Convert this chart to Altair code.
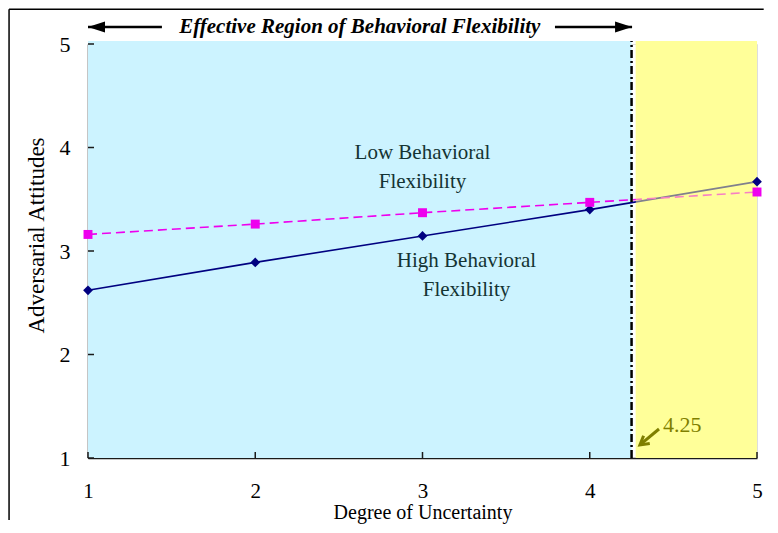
import altair as alt
import pandas as pd

# ---- data ----
x_vals = [1, 2, 3, 4, 5]
high_flex = [2.62, 2.89, 3.145, 3.40, 3.67]
low_flex = [3.16, 3.26, 3.37, 3.47, 3.57]
x_ticks = [1, 2, 3, 4, 5]
y_ticks = [1, 2, 3, 4, 5]
cutoff = 4.25

region_x = [1, 4.275]
region_x2 = [4.25, 5]
region_top = 5.03
region_colors = ["#ccf3ff", "#ffff99"]

ann_labels = ["Low Behavioral", "Flexibility", "High Behavioral", "Flexibility"]
ann_x = [3.0, 3.0, 3.263, 3.263]
ann_y = [3.947, 3.667, 2.903, 2.623]

header_text = ["Effective Region of Behavioral Flexibility"]
header_x = [2.625]
header_y = [5.165]
arrow_left = [1.0, 1.442]      # tip, tail
arrow_right = [3.792, 4.253]   # tail, tip

cut_label = ["4.25"]
cut_label_xy = [4.438, 1.319]
cut_arrow_from = [4.414, 1.280]
cut_arrow_to = [4.300, 1.126]

# outer frame (left edge x, top edge y, extents)
frame_left_x = [0.528]
frame_top_y = [5.335]
frame_x_end = [5.04]
frame_y_end = [0.40]

W, H = 669, 414
FONT = "Liberation Serif"

xscale = alt.Scale(domain=[1, 5], nice=False, zero=False)
yscale = alt.Scale(domain=[1, 5], nice=False, zero=False)

xaxis = alt.Axis(values=x_ticks, title="Degree of Uncertainty", ticks=False, tickSize=0,
                 labelPadding=22, labelFontSize=21, titleFontSize=20, titleFontWeight="normal",
                 domainColor="#1a1a1a", domainWidth=1.5, grid=False, labelColor="black",
                 titleColor="black", titleX=W / 2, titleY=60, titleBaseline="alphabetic",
                 titleAnchor="middle", labelFlush=False, format="d", labelFont=FONT, titleFont=FONT)
yaxis = alt.Axis(values=y_ticks, title="Adversarial Attitudes", ticks=False, tickSize=0,
                 labelPadding=18, labelFontSize=22, titleFontSize=23, titleFontWeight="normal",
                 domainColor="#1a1a1a", domainWidth=1.5, grid=False, labelColor="black",
                 titleColor="black", titleAngle=270, titleX=-45, titleY=191,
                 titleBaseline="alphabetic", titleAlign="center", labelFlush=False, format="d",
                 labelFont=FONT, titleFont=FONT, labelBaseline="middle")


def X(f="x"):
    return alt.X(f"{f}:Q", scale=xscale, axis=xaxis)


def Y(f="y"):
    return alt.Y(f"{f}:Q", scale=yscale, axis=yaxis)


series = pd.DataFrame({"x": x_vals, "high": high_flex, "low": low_flex})
high_df = series[["x", "high"]].rename(columns={"high": "y"})
low_df = series[["x", "low"]].rename(columns={"low": "y"})

regions = pd.DataFrame({"x": region_x, "x2": region_x2, "y": [1, 1],
                        "y2": [region_top, region_top], "c": region_colors})

frame_v = alt.Chart(pd.DataFrame({"x": frame_left_x, "y": frame_y_end, "y2": frame_top_y})).mark_rule(
    color="black", strokeWidth=1.5, clip=False
).encode(x=X(), y=Y(), y2="y2:Q")
frame_h = alt.Chart(pd.DataFrame({"x": frame_left_x, "x2": frame_x_end, "y": frame_top_y})).mark_rule(
    color="black", strokeWidth=1.5, clip=False
).encode(x=X(), x2="x2:Q", y=Y())

bg = alt.Chart(regions).mark_rect().encode(
    x=X(), x2="x2:Q", y=Y(), y2="y2:Q", color=alt.Color("c:N", scale=None)
)

line_high = alt.Chart(high_df).mark_line(color="#000080", strokeWidth=1.6).encode(x=X(), y=Y())
line_low = alt.Chart(low_df).mark_line(color="#ee00ee", strokeWidth=1.6, strokeDash=[9, 5]).encode(x=X(), y=Y())

overlay = alt.Chart(regions.iloc[[1]]).mark_rect(color="#ffff99", opacity=0.5).encode(
    x=X(), x2="x2:Q", y=Y(), y2="y2:Q"
)

cut_df = pd.DataFrame({"x": [cutoff], "y": [1], "y2": [region_top]})
cut_rule = alt.Chart(cut_df).mark_rule(color="black", strokeWidth=2.5, strokeDash=[8, 3, 2, 3]).encode(
    x=X(), y=Y(), y2="y2:Q"
)

pts_high = alt.Chart(high_df).mark_point(shape="diamond", filled=True, color="#000080", size=95, opacity=1).encode(x=X(), y=Y())
pts_low = alt.Chart(low_df).mark_point(shape="square", filled=True, color="#ee00ee", size=80, opacity=1).encode(x=X(), y=Y())

# inward ticks
xt = pd.DataFrame({"x": x_ticks})
xtick_marks = alt.Chart(xt).mark_rule(color="#1a1a1a", strokeWidth=1.5).encode(
    x=X(), y=alt.value(H), y2=alt.value(H - 6)
)
yt = pd.DataFrame({"y": y_ticks})
ytick_marks = alt.Chart(yt).mark_rule(color="#1a1a1a", strokeWidth=1.5).encode(
    y=Y(), x=alt.value(0), x2=alt.value(6)
)

ann_df = pd.DataFrame({"x": ann_x, "y": ann_y, "t": ann_labels})
ann = alt.Chart(ann_df).mark_text(font=FONT, fontSize=21, color="#143333", align="center", baseline="middle").encode(
    x=X(), y=Y(), text="t:N"
)

hdr_df = pd.DataFrame({"x": header_x, "y": header_y, "t": header_text})
hdr = alt.Chart(hdr_df).mark_text(font=FONT, fontSize=21, fontStyle="italic", fontWeight="bold",
                                  color="black", align="center", baseline="middle").encode(
    x=X(), y=Y(), text="t:N"
)

arr_df = pd.DataFrame({"x": [arrow_left[0], arrow_right[0]], "x2": [arrow_left[1], arrow_right[1]],
                       "y": [header_y[0], header_y[0]]})
arr_lines = alt.Chart(arr_df).mark_rule(color="black", strokeWidth=2.5).encode(x=X(), x2="x2:Q", y=Y())
head_l = alt.Chart(pd.DataFrame({"x": [arrow_left[0]], "y": header_y})).mark_point(
    shape="M 0 0 L 2 -0.65 L 2 0.65 Z", filled=True, color="black", size=289, opacity=1
).encode(x=X(), y=Y())
head_r = alt.Chart(pd.DataFrame({"x": [arrow_right[1]], "y": header_y})).mark_point(
    shape="M 0 0 L -2 -0.65 L -2 0.65 Z", filled=True, color="black", size=289, opacity=1
).encode(x=X(), y=Y())

OLIVE = "#7f7f00"
cut_txt = alt.Chart(pd.DataFrame({"x": [cut_label_xy[0]], "y": [cut_label_xy[1]], "t": cut_label})).mark_text(
    font=FONT, fontSize=22, color=OLIVE, align="left", baseline="middle"
).encode(x=X(), y=Y(), text="t:N")
cut_arr = alt.Chart(pd.DataFrame({"x": [cut_arrow_from[0]], "x2": [cut_arrow_to[0]],
                                  "y": [cut_arrow_from[1]], "y2": [cut_arrow_to[1]]})).mark_rule(
    color=OLIVE, strokeWidth=3
).encode(x=X(), x2="x2:Q", y=Y(), y2="y2:Q")
cut_head = alt.Chart(pd.DataFrame({"x": [cut_arrow_to[0]], "y": [cut_arrow_to[1]]})).mark_point(
    shape="M 0.985 -0.147 L 0 0 L 0.365 -0.927", filled=False, color=OLIVE, strokeWidth=3,
    size=400, opacity=1
).encode(x=X(), y=Y())

chart = alt.layer(
    frame_v, frame_h, bg, line_high, line_low, overlay, cut_rule, pts_high, pts_low,
    xtick_marks, ytick_marks, ann, hdr, arr_lines, head_l, head_r, cut_txt, cut_arr, cut_head
).properties(
    width=W, height=H,
    autosize=alt.AutoSizeParams(type="none"),
    padding={"left": 80, "top": 36, "right": 8, "bottom": 66},
).configure_view(stroke=None).configure(font=FONT)

chart.save("out.html", embed_options={"renderer": "svg", "actions": False})
